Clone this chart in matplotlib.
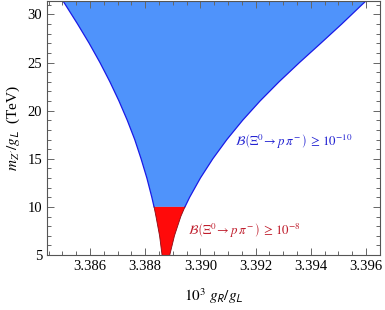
import numpy as np
import matplotlib
matplotlib.use("Agg")
import matplotlib.pyplot as plt
from matplotlib.ticker import MultipleLocator, FormatStrFormatter

plt.rcParams['font.family'] = ['Liberation Serif', 'DejaVu Serif']
plt.rcParams['mathtext.fontset'] = 'stix'

# boundary curves (mass in TeV, x = 10^3 gR/gL)
mass = [5, 7, 9, 10, 11, 13, 15, 17, 19, 21, 23, 25, 27, 29, 31, 31.4]
left_x = [3.38861, 3.38852, 3.38839, 3.38832, 3.38824, 3.38806, 3.38785, 3.38762,
          3.38735, 3.38705, 3.38672, 3.38636, 3.38597, 3.38555, 3.38511, 3.38502]
right_x = [3.38889, 3.38906, 3.38929, 3.38944, 3.38961, 3.39000, 3.39045, 3.39096,
           3.39153, 3.39216, 3.39285, 3.39359, 3.39436, 3.39512, 3.39585, 3.39600]

m_split = 10   # red region below, blue above

mass = np.array(mass)
left_x = np.array(left_x)
right_x = np.array(right_x)

fig = plt.figure(figsize=(3.85, 3.10), dpi=100)
ax = fig.add_axes([47/385, 1 - 255/310, 333/385, 254/310])

def region(sel, fc, ec, lw):
    xs = np.concatenate([left_x[sel], right_x[sel][::-1]])
    ys = np.concatenate([mass[sel], mass[sel][::-1]])
    ax.fill(xs, ys, color=fc, lw=0)
    ax.plot(left_x[sel], mass[sel], color=ec, lw=lw)
    ax.plot(right_x[sel], mass[sel], color=ec, lw=lw)

region(mass >= m_split, '#4f93fb', '#1a1ae6', 0.9)
region(mass <= m_split, '#ff0a0a', '#8a0a14', 0.6)

ax.text(3.39127, 16.7, r'$\mathcal{B}\left(\Xi^0\!\rightarrow p\,\pi^-\right)\,\geq\,10^{-10}$',
        color='#2323d2', fontsize=9.3, va='center', ha='left')
ax.text(3.38954, 7.5, r'$\mathcal{B}\left(\Xi^0\!\rightarrow p\,\pi^-\right)\,\geq\,10^{-8}$',
        color='#c01e2d', fontsize=9.3, va='center', ha='left')

ax.set_xlim(3.38444, 3.39651)
ax.set_ylim(5, 31.4)
ax.xaxis.set_major_locator(MultipleLocator(0.002))
ax.xaxis.set_minor_locator(MultipleLocator(0.0005))
ax.xaxis.set_major_formatter(FormatStrFormatter('%.3f'))
ax.yaxis.set_major_locator(MultipleLocator(5))
ax.yaxis.set_minor_locator(MultipleLocator(1))
ax.tick_params(which='both', direction='in', top=True, right=True, labelsize=10.5,
               color='#666666', width=0.7)
ax.tick_params(which='major', length=5)
ax.tick_params(which='minor', length=3)
for s in ax.spines.values():
    s.set_color('#555555')
    s.set_linewidth(0.8)

ax.set_xlabel(r'$10^3\ g_{\mathsf{R}}/g_{\mathsf{L}}$', fontsize=11, labelpad=10)
ax.set_ylabel(r'$m_{Z^{\prime}}/g_{\mathsf{L}}$  (TeV)', fontsize=11, labelpad=4)

fig.savefig('out.png', dpi=100)
